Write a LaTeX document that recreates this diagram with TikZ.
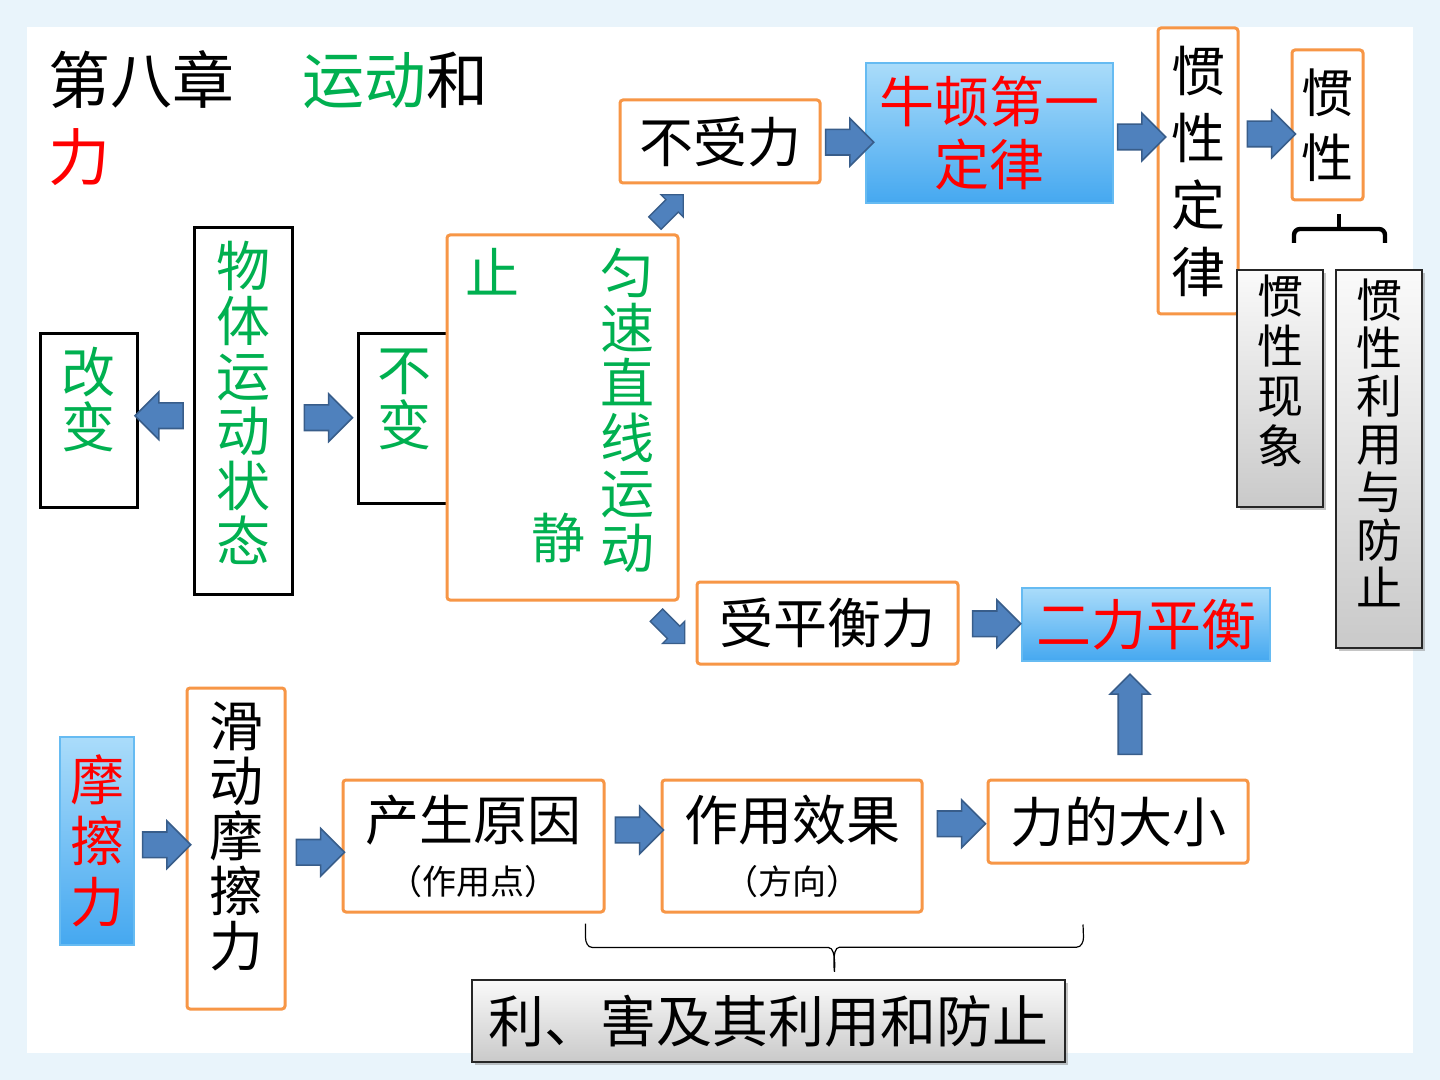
\documentclass[tikz,border=0pt]{standalone}
\usepackage{fontspec}
\setmainfont{Noto Sans CJK SC}
\usetikzlibrary{shapes.arrows,shadows,calc}
\definecolor{ora}{HTML}{F79646}
\definecolor{grn}{HTML}{00B050}
\definecolor{afill}{HTML}{4F81BD}
\definecolor{aline}{HTML}{385D8A}
\definecolor{btop}{HTML}{AADCFA}
\definecolor{bbot}{HTML}{45A8F0}
\definecolor{bline}{HTML}{66BBF2}
\definecolor{bgblue}{HTML}{E9F4FB}
\newcommand\fs[2]{\fontsize{#1}{#2}\selectfont}
\begin{document}
\begin{tikzpicture}[x=0.5pt,y=-0.5pt,
 obox/.style={draw=ora, line width=1.5pt, fill=white, rounded corners=1.5pt, inner sep=0pt, align=center},
 kbox/.style={draw=black, line width=1.5pt, fill=white, inner sep=0pt, align=center},
 skybox/.style={draw=bline, line width=1pt, top color=btop, bottom color=bbot, inner sep=0pt, align=center, text=red},
 greybox/.style={draw=black!85, line width=0.8pt, top color=gray!4, bottom color=gray!42, drop shadow={shadow xshift=1.5pt, shadow yshift=-1.5pt, opacity=0.45}, inner sep=0pt, align=center},
 barrow/.style={single arrow, draw=aline, fill=afill, line width=0.8pt, minimum height=24pt, single arrow head extend=5.5pt, inner sep=6pt, single arrow tip angle=90},
 sarrow/.style={single arrow, draw=aline, fill=afill, line width=0.7pt, minimum height=20pt, single arrow head extend=3.5pt, inner sep=4pt, single arrow tip angle=90},
 uarrow/.style={single arrow, draw=aline, fill=afill, line width=0.8pt, minimum height=40pt, single arrow head extend=4pt, inner sep=5.5pt, single arrow tip angle=90},
 vtxt/.style={font=\fs{27pt}{27.5pt}},
 htxt/.style={font=\fs{27pt}{27pt}},
 smalltxt/.style={font=\fs{17pt}{20pt}}
]
% background
\fill[bgblue] (0,0) rectangle (1440,1080);
\fill[white] (27,27) rectangle (1413,1053);

% title
\node[anchor=base west, inner sep=0pt, font=\fs{31pt}{31pt}] (t1) at (48,104) {第八章\hspace{1.1em}{\color{grn}运动}和};
\node[anchor=base west, inner sep=0pt, font=\fs{31pt}{31pt}, text=red] (t2) at (48,181) {力};

% motion state part
\node[kbox, minimum width=48.5pt, minimum height=86.5pt, text=grn, vtxt, text depth=23pt] (gb) at (88.5,420.5) {改\\变};
\node[kbox, minimum width=49pt, minimum height=183pt, text=grn, vtxt, text depth=10pt] (wt) at (243,411) {物\\体\\运\\动\\状\\态};
\node[kbox, minimum width=46pt, minimum height=84.5pt, text=grn, vtxt, text depth=21pt] (bb) at (404,418.5) {不\\变};
\node[obox, minimum width=115.5pt, minimum height=182.5pt] (jz) at (562.5,417.5) {};
\node[text=grn, htxt, inner sep=0pt] (zhi) at (492,272) {止};
\node[text=grn, vtxt, inner sep=0pt, align=center] (yun) at (627,410) {匀\\速\\直\\线\\运\\动};
\node[text=grn, htxt, inner sep=0pt] (jing) at (558,538) {静};

% upper branch
\node[obox, minimum width=100pt, minimum height=41.5pt, htxt] (bsl) at (720,141.5) {不受力};
\node[skybox, minimum width=123.5pt, minimum height=70pt, font=\fs{27.5pt}{31.5pt}] (nd) at (989.5,133) {牛顿第一\\定律};
\node[obox, minimum width=40pt, minimum height=143pt, font=\fs{27pt}{33.5pt}] (gxdl) at (1198,171) {惯\\性\\定\\律};
\node[obox, minimum width=35.5pt, minimum height=75pt, font=\fs{26pt}{32.5pt}] (gx) at (1327.5,125) {惯\\性};
\node[greybox, minimum width=43pt, minimum height=118.5pt, font=\fs{23pt}{25pt}, text depth=19pt] (gxxx) at (1280,388.5) {惯\\性\\现\\象};
\node[greybox, minimum width=43pt, minimum height=189pt, font=\fs{23pt}{24pt}, text depth=17pt] (gxly) at (1379,459) {惯\\性\\利\\用\\与\\防\\止};

% lower branch of motion
\node[obox, minimum width=130.5pt, minimum height=41pt, htxt] (sph) at (827.5,623) {受平衡力};
\node[skybox, minimum width=124pt, minimum height=36.5pt, font=\fs{27.5pt}{27.5pt}] (elph) at (1146,624.5) {二力平衡};

% friction
\node[skybox, minimum width=37pt, minimum height=104pt, font=\fs{27pt}{30.5pt}] (mcl) at (97,841) {摩\\擦\\力};
\node[obox, minimum width=49pt, minimum height=160.5pt, vtxt, text depth=14pt] (hd) at (236,848.5) {滑\\动\\摩\\擦\\力};
\node[obox, minimum width=130.5pt, minimum height=66pt, htxt] (cs) at (473.5,846) {产生原因\\{\fs{17pt}{20pt}（作用点）}};
\node[obox, minimum width=130pt, minimum height=66pt, htxt] (zy) at (792,846) {作用效果\\{\fs{17pt}{20pt}（方向）}};
\node[obox, minimum width=130pt, minimum height=41.5pt, htxt] (ldx) at (1118,821.5) {力的大小};
\node[greybox, minimum width=296.5pt, minimum height=41pt, font=\fs{28pt}{28pt}] (lh) at (768.5,1021) {利、害及其利用和防止};

% block arrows
\node[barrow, rotate=180] (a1) at ($(wt.west)!0.5!(gb.east)$) {};
\node[barrow] (a2) at ($(wt.east)!0.5!(bb.west)+(-3,3)$) {};
\node[barrow] (a3) at ($(bsl.east)!0.5!(nd.west)+(0,5)$) {};
\node[barrow] (a4) at ($(nd.east)!0.5!(nd.east -| gxdl.west)+(0,4)$) {};
\node[barrow] (a5) at ($(gxdl.east |- gx.center)!0.5!(gx.west)+(0,9)$) {};
\node[barrow] (a6) at ($(sph.east)!0.5!(elph.west)$) {};
\node[uarrow, rotate=90] (a7) at ($(elph.south)!0.5!(ldx.north)+(-2,0)$) {};
\node[barrow] (a8) at ($(mcl.east)!0.5!(hd.west)$) {};
\node[barrow] (a9) at ($(hd.east)!0.5!(cs.west)+(0,5)$) {};
\node[barrow] (a10) at ($(cs.east)!0.5!(zy.west)+(0,-16)$) {};
\node[barrow] (a11) at ($(zy.east)!0.5!(ldx.west)+(0,-10)$) {};
\node[sarrow, rotate=45] (a12) at ($(jz.north east)!0.5!(bsl.south west)+(17,3)$) {};
\node[sarrow, rotate=-45] (a13) at ($(jz.south east)!0.5!(sph.west)+(-20,14)$) {};

% bracket under 惯性
\coordinate (bk) at ($(gx.south)+(11.5,0)$);
\draw[line width=2.2pt, rounded corners=3pt] (1294,243) -- (1294,229) -- (1385,229) -- (1385,243);
\draw[line width=2.2pt] ($(bk)+(0,13)$) -- ($(bk)+(0,29)$);

% brace at bottom
\coordinate (bl) at ($(cs.south)+(112,10)$);
\coordinate (br) at ($(ldx.south)+(-35,60)$);
\coordinate (btip) at ($(lh.north)+(66,-9)$);
\draw[line width=0.6pt] (bl) -- ++(0,14) to[out=-90,in=180] ++(7,10) -- ++(236,0) to[out=0,in=-95] (btip)
  (btip) to[out=-85,in=180] ++(5,-23) -- ++(237,0) to[out=0,in=-90] ++(7,-10) -- (br);
\end{tikzpicture}
\end{document}
